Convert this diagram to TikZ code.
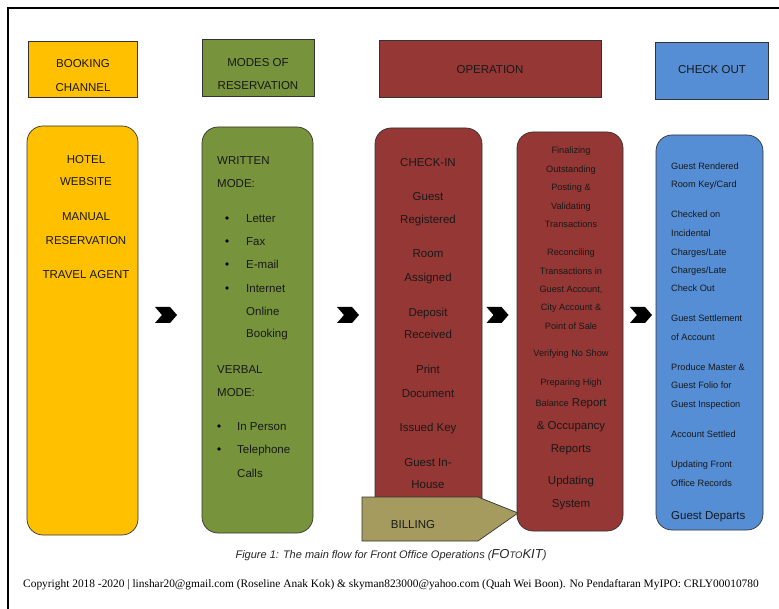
\documentclass[tikz,border=0pt]{standalone}
\usepackage{fontspec}
\setmainfont{Liberation Sans}
\newfontfamily\copyfont{Liberation Serif}
\usetikzlibrary{positioning, shapes.symbols}

\definecolor{bookyellow}{HTML}{FFC000}
\definecolor{modegreen}{HTML}{77933C}
\definecolor{operred}{HTML}{953735}
\definecolor{outblue}{HTML}{558ED5}
\definecolor{billkhaki}{HTML}{A59B5F}
\definecolor{edgegrey}{HTML}{333333}

\tikzset{
  hdrbox/.style={draw=edgegrey, line width=0.7pt, inner sep=0pt},
  colbox/.style={draw=edgegrey, line width=0.7pt, rounded corners=16pt, inner sep=0pt},
  bigtxt/.style={font=\fontsize{11.5}{13}\selectfont, text=black!90, inner sep=0pt, anchor=mid, yshift=-1.8pt},
  smalltxt/.style={font=\fontsize{9.2}{11}\selectfont, text=black!90, inner sep=0pt, anchor=mid, yshift=-1.2pt},
  dot/.style={circle, fill=black, inner sep=0pt, minimum size=3.6pt},
  chevron/.style={signal, signal from=west, signal to=east, signal pointer angle=98,
    fill=black, inner sep=0pt, minimum width=22pt, minimum height=16pt},
}

\begin{document}
\begin{tikzpicture}[x=1pt, y=-1pt]
  \useasboundingbox (0,0) rectangle (779,609);
  % page frame
  \draw[line width=2.3pt] (8,609) -- (8,8) -- (779,8);

  % headers
  \node[hdrbox, fill=bookyellow, minimum width=109pt, minimum height=56pt] (hBook) at (82.5,69) {};
  \node[hdrbox, fill=modegreen, minimum width=112pt, minimum height=57pt] (hModes) at (258,67.5) {};
  \node[hdrbox, fill=operred, minimum width=222pt, minimum height=57pt] (hOper) at (490,68.5) {};
  \node[hdrbox, fill=outblue, minimum width=113pt, minimum height=57pt] (hOut) at (711.5,70.5) {};
  \node[bigtxt] (tBook1) at (83,63) {BOOKING};
  \node[bigtxt] (tBook2) at (83,87) {CHANNEL};
  \node[bigtxt] (tModes1) at (258,62) {MODES OF};
  \node[bigtxt] (tModes2) at (258,85) {RESERVATION};
  \node[bigtxt] (tOper) at (490,69) {OPERATION};
  \node[bigtxt] (tOut) at (712,69) {CHECK OUT};

  % columns
  \node[colbox, fill=bookyellow, minimum width=111pt, minimum height=409pt] (cBook) at (82.5,330.5) {};
  \node[colbox, fill=modegreen, minimum width=111pt, minimum height=406pt] (cModes) at (257.5,330) {};
  \node[colbox, fill=operred, minimum width=107pt, minimum height=402pt] (cIn) at (428.5,329) {};
  \node[colbox, fill=operred, minimum width=106pt, minimum height=399pt] (cPost) at (570,331.5) {};
  \node[colbox, fill=outblue, minimum width=107pt, minimum height=395pt] (cOut) at (709.5,332.5) {};

  % booking channel
  \foreach \y/\t in {159/{HOTEL}, 181/{WEBSITE}, 216/{MANUAL}, 240/{RESERVATION}, 274/{TRAVEL AGENT}}
    \node[bigtxt] at (86,\y) {\t};

  % modes of reservation
  \foreach \y/\t in {160/{WRITTEN}, 183/{MODE:}, 369/{VERBAL}, 392/{MODE:}}
    \node[bigtxt, anchor=mid west] at (217,\y) {\t};
  \foreach \y/\t in {218/{Letter}, 241/{Fax}, 264/{E-mail}, 288/{Internet}} {
    \node[dot] at (227,\y) {};
    \node[bigtxt, anchor=mid west] at (246,\y) {\t};
  }
  \foreach \y/\t in {311/{Online}, 333/{Booking}}
    \node[bigtxt, anchor=mid west] at (246,\y) {\t};
  \foreach \y/\t in {426/{In Person}, 449/{Telephone}} {
    \node[dot] at (219,\y) {};
    \node[bigtxt, anchor=mid west] at (237,\y) {\t};
  }
  \node[bigtxt, anchor=mid west] (tCalls) at (237,473) {Calls};

  % check-in
  \foreach \y/\t in {162/{CHECK-IN}, 196/{Guest}, 219/{Registered}, 253/{Room}, 277/{Assigned},
      312/{Deposit}, 334/{Received}, 369/{Print}, 393/{Document}, 427/{Issued Key},
      462/{Guest In-}, 484/{House}}
    \node[bigtxt] at (428,\y) {\t};

  % posting column
  \foreach \y/\t in {150/{Finalizing}, 169/{Outstanding}, 187/{Posting \&}, 206/{Validating},
      224/{Transactions}, 252/{Reconciling}, 271/{Transactions in}, 289/{Guest Account,},
      307/{City Account \&}, 326/{Point of Sale}, 353/{Verifying No Show}, 382/{Preparing High}}
    \node[smalltxt] at (571,\y) {\t};
  \node[bigtxt] (tBalance) at (571,402) {{\fontsize{9.2}{11}\selectfont Balance} Report};
  \foreach \y/\t in {425/{\& Occupancy}, 448/{Reports}, 480/{Updating}, 503/{System}}
    \node[bigtxt] at (571,\y) {\t};

  % check out
  \foreach \y/\t in {166/{Guest Rendered}, 184/{Room Key/Card}, 214/{Checked on}, 233/{Incidental},
      252/{Charges/Late}, 270/{Charges/Late}, 288/{Check Out}, 318/{Guest Settlement},
      337/{of Account}, 367/{Produce Master \&}, 385/{Guest Folio for}, 404/{Guest Inspection},
      434/{Account Settled}, 464/{Updating Front}, 483/{Office Records}}
    \node[smalltxt, anchor=mid west] at (671,\y) {\t};
  \node[bigtxt, anchor=mid west] (tDeparts) at (671,515) {Guest Departs};

  % billing
  \draw[fill=billkhaki, draw=edgegrey, line width=0.7pt]
    (362,497) -- (478,497) -- (518,513) -- (478,541) -- (362,541) -- cycle;
  \node[bigtxt] (tBilling) at (413,524) {BILLING};

  % chevrons
  \node[chevron] (chevA) at (166,315) {};
  \node[chevron] (chevB) at (348,315) {};
  \node[chevron] (chevC) at (497.5,315) {};
  \node[chevron] (chevD) at (641,315) {};

  % caption and footer
  \node[font=\fontsize{11}{13}\selectfont\itshape, text=black!85, inner sep=0pt, anchor=mid, yshift=-1.5pt] (caption) at (391,554)
    {Figure 1: The main flow for Front Office Operations ({\fontsize{13}{13}\selectfont FO}{\fontsize{9.5}{10}\selectfont TO}{\fontsize{13}{13}\selectfont KIT})};
  \node[font=\copyfont\fontsize{11.4}{13}\selectfont, inner sep=0pt, anchor=mid, yshift=-1.5pt] (copyright) at (391,583)
    {Copyright 2018 -2020 | linshar20@gmail.com (Roseline Anak Kok) \& skyman823000@yahoo.com (Quah Wei Boon). No Pendaftaran MyIPO: CRLY00010780};
\end{tikzpicture}
\end{document}
